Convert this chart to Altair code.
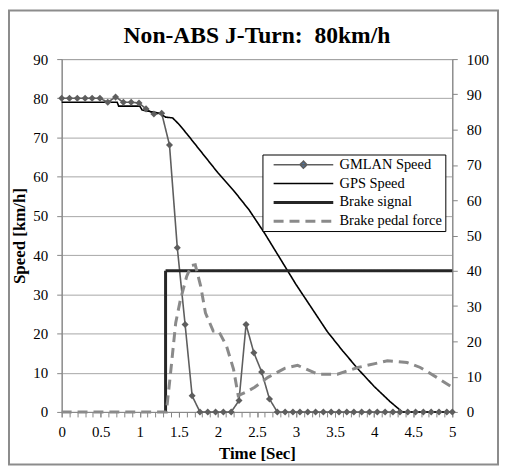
import altair as alt
import pandas as pd

# ---------------- data ----------------
gm_time = [0.00, 0.10, 0.20, 0.30, 0.39, 0.49, 0.59, 0.69, 0.79, 0.89, 0.99, 1.08,
           1.18, 1.28, 1.38, 1.48, 1.58, 1.67, 1.77, 1.87, 1.97, 2.07, 2.17, 2.27,
           2.36, 2.46, 2.56, 2.66, 2.76, 2.86, 2.96, 3.05, 3.15, 3.25, 3.35, 3.45,
           3.55, 3.65, 3.74, 3.84, 3.94, 4.04, 4.14, 4.24, 4.33, 4.43, 4.53, 4.63,
           4.73, 4.83, 4.93, 5.00]
gm_speed = [80, 80, 80, 80, 80, 80, 79, 80.3, 79, 79, 78.8, 77.3,
            76, 76.2, 68.1, 41.9, 22.3, 4.1, 0, 0, 0, 0, 0, 2.9,
            22.3, 15.1, 10.2, 3.3, 0, 0, 0, 0, 0, 0, 0, 0,
            0, 0, 0, 0, 0, 0, 0, 0, 0, 0, 0, 0,
            0, 0, 0, 0]

gps_time = [0, 0.71, 0.73, 1.0, 1.03, 1.25, 1.33, 1.42, 1.5, 1.6, 1.7, 1.8, 2.0,
            2.2, 2.4, 2.6, 2.8, 3.0, 3.2, 3.4, 3.6, 3.8, 4.0, 4.2, 4.36, 5.0]
gps_speed = [79, 79, 78, 78, 77, 76.2, 75.2, 75, 73.4, 71, 68.5, 66, 61,
             56.5, 51.5, 45.5, 39, 32.5, 26.5, 20.5, 15.5, 10.8, 6.5, 2.7, 0, 0]

brake_time = [1.33, 1.33, 5.0]
brake_signal = [0, 40, 40]

pedal_time = [0, 1.34, 1.39, 1.46, 1.52, 1.60, 1.66, 1.71, 1.78, 1.84, 1.94, 2.01,
              2.11, 2.20, 2.26, 2.35, 2.47, 2.64, 2.86, 3.02, 3.28, 3.53, 3.79,
              4.17, 4.42, 4.59, 4.80, 5.0]
pedal_force = [0, 0, 10.2, 25.3, 31.8, 38.4, 41.5, 41.7, 35.6, 28.1, 22.9, 22.9,
               18.7, 12.1, 4.6, 5.5, 7, 9.8, 12.4, 13.2, 10.7, 10.7, 12.6,
               14.5, 14, 12.6, 9.8, 7]

series_names = ["GMLAN Speed", "GPS Speed", "Brake signal", "Brake pedal force"]
series_colors = ["#5e5e5e", "#000000", "#262626", "#8a8a8a"]
series_dash = [[1, 0], [1, 0], [1, 0], [10, 6]]
series_width = [1.6, 1.6, 3, 3]
LINE_SYM = "M-6,0H6"
series_symbols = [LINE_SYM + "M0,-0.7L0.7,0L0,0.7L-0.7,0Z", LINE_SYM, LINE_SYM, LINE_SYM]

left_ticks = list(range(0, 91, 10))
right_ticks = list(range(0, 101, 10))
x_labels = [i / 2 for i in range(11)]
x_minor = [i / 10 for i in range(51)]

title_text = "Non-ABS J-Turn:\u00a0 80km/h"
x_title = "Time [Sec]"
y_title = "Speed [km/h]"


def long_frame(pairs):
    rows = []
    for name, ts, vs in pairs:
        for i, (t, v) in enumerate(zip(ts, vs)):
            rows.append({"series": name, "time": t, "value": v, "idx": i})
    return pd.DataFrame(rows)


speed_df = long_frame([(series_names[0], gm_time, gm_speed),
                       (series_names[1], gps_time, gps_speed)])
brake_df = long_frame([(series_names[2], brake_time, brake_signal),
                       (series_names[3], pedal_time, pedal_force)])
marker_df = speed_df[speed_df["series"] == series_names[0]]

SERIF = "Liberation Serif"
GRAY = "#868686"

legend = alt.Legend(
    title=None, orient="none", legendX=202, legendY=96,
    symbolType=LINE_SYM, symbolSize=100, symbolOffset=31, labelOffset=29,
    symbolOpacity=1,
    labelFont=SERIF, labelFontSize=14.5, labelColor="black",
    padding=3, rowPadding=4, strokeColor="#000000", fillColor="white",
)

color_enc = alt.Color("series:N", scale=alt.Scale(domain=series_names, range=series_colors), legend=legend)
dash_enc = alt.StrokeDash("series:N", scale=alt.Scale(domain=series_names, range=series_dash), legend=legend)
width_enc = alt.StrokeWidth("series:N", scale=alt.Scale(type="ordinal", domain=series_names, range=series_width), legend=legend)
shape_enc = alt.Shape("series:N", scale=alt.Scale(domain=series_names, range=series_symbols), legend=legend)

x_scale = alt.Scale(domain=[0, 5], nice=False)

x_main = alt.X("time:Q", scale=x_scale,
               axis=alt.Axis(orient="bottom", values=x_labels, format="~g", labelOverlap=False,
                             labelFlush=False, grid=False, tickSize=5, tickColor=GRAY,
                             domainColor=GRAY, labelFont=SERIF, labelFontSize=15,
                             labelColor="black", labelBaseline="alphabetic", labelPadding=20,
                             title=x_title, titleFont=SERIF, titleFontSize=17,
                             titleFontWeight="bold", titleColor="black",
                             titleBaseline="alphabetic", titleY=47))

x_minor_enc = alt.X("time:Q", scale=x_scale,
                    axis=alt.Axis(orient="bottom", values=x_minor, labels=False, domain=False,
                                  grid=False, tickSize=5, tickColor=GRAY, title=None))

y_left = alt.Y("value:Q", scale=alt.Scale(domain=[0, 90], nice=False),
               axis=alt.Axis(orient="left", values=left_ticks, grid=True, gridColor="#a6a6a6",
                             labelOverlap=False, tickSize=5, tickColor=GRAY, domainColor=GRAY,
                             labelFont=SERIF, labelFontSize=15, labelColor="black", labelPadding=9,
                             title=y_title, titleFont=SERIF, titleFontSize=17, titleFontWeight="bold",
                             titleColor="black", titleBaseline="alphabetic", titleX=-37, titleY=177.5))

y_right = alt.Y("value:Q", scale=alt.Scale(domain=[0, 100], nice=False),
                axis=alt.Axis(orient="right", values=right_ticks, grid=False, labelOverlap=False,
                              tickSize=5, tickColor=GRAY, domainColor=GRAY,
                              labelFont=SERIF, labelFontSize=15, labelColor="black", labelPadding=9,
                              title=None))

speed_lines = alt.Chart(speed_df).mark_line().encode(
    x=x_main, y=y_left, color=color_enc, strokeDash=dash_enc, strokeWidth=width_enc,
    order=alt.Order("idx:Q"))

markers = alt.Chart(marker_df).mark_point(shape="diamond", filled=True, size=50,
                                          color="#5e5e5e", opacity=1).encode(
    x=x_main, y=y_left)

brake_lines = alt.Chart(brake_df).mark_line().encode(
    x=x_minor_enc, y=y_right, color=color_enc, strokeDash=dash_enc, strokeWidth=width_enc,
    order=alt.Order("idx:Q"))

# legend-only layer (no rows) that gives the GMLAN legend entry its diamond
legend_shapes = alt.Chart(pd.DataFrame({"series": pd.Series([], dtype=str)})).mark_point(
    filled=True, opacity=1).encode(shape=shape_enc)

border = alt.Chart(alt.Data(values=[{}])).mark_rect(
    fill="transparent", stroke="#8c8c8c", strokeWidth=2).encode(
    x=alt.value(-53), x2=alt.value(439), y=alt.value(-49), y2=alt.value(408))

chart = alt.layer(
    border,
    alt.layer(speed_lines, markers),
    brake_lines,
    legend_shapes,
).resolve_scale(y="independent").resolve_axis(x="independent").properties(
    width=393, height=355,
    autosize=alt.AutoSizeParams(type="none"),
    padding={"left": 54, "top": 50, "right": 47, "bottom": 54},
    title=alt.TitleParams(title_text, font=SERIF, fontSize=23.7, fontWeight="bold", color="black",
                          anchor="middle", frame="group", baseline="alphabetic", offset=-58),
    background="white",
).configure_view(stroke=GRAY)

chart.save("out.html", embed_options={"renderer": "svg", "actions": False})
